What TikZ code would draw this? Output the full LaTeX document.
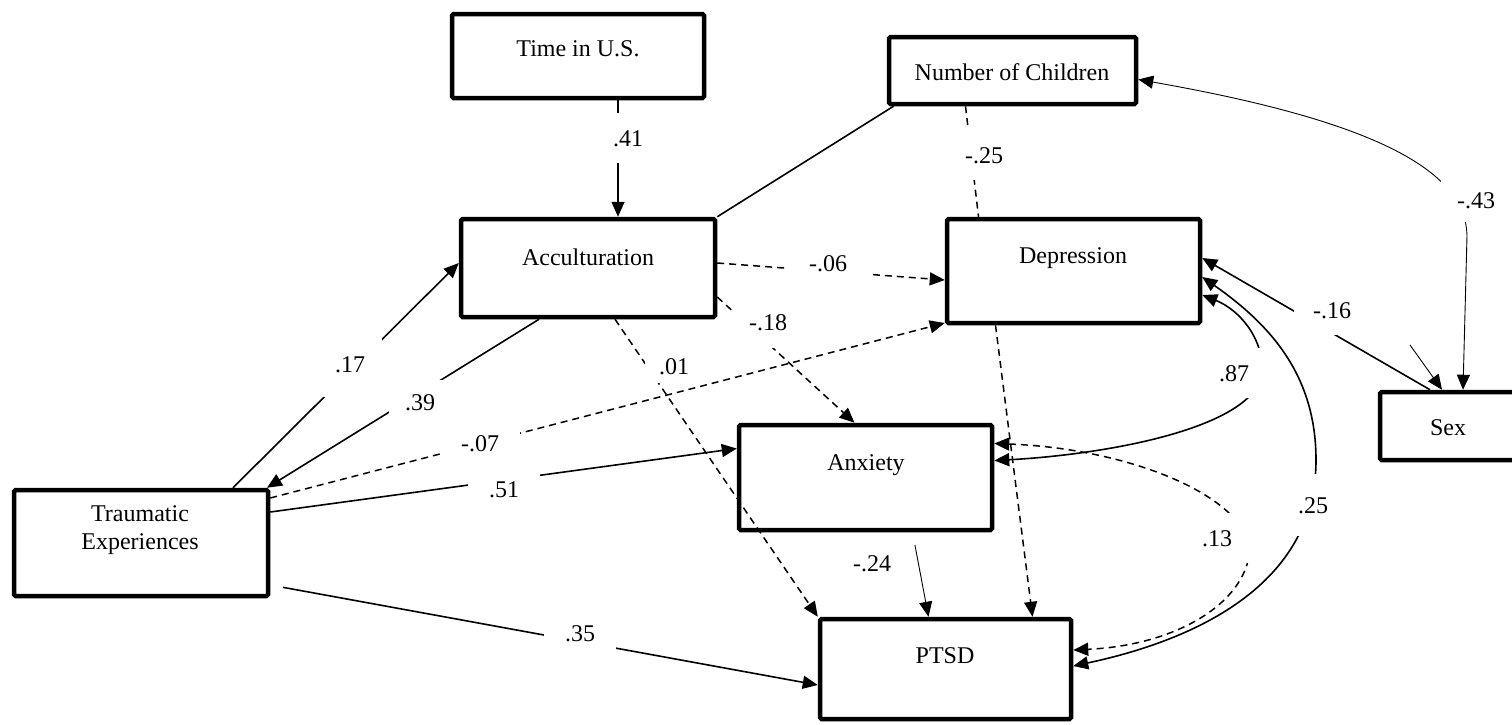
\documentclass[tikz,border=0pt]{standalone}
\usepackage{fontspec}
\setmainfont{Liberation Serif}
\usetikzlibrary{arrows.meta}
\begin{document}
\begin{tikzpicture}[x=1pt,y=-1pt,
  >={Triangle[length=15pt,width=13pt]},
  box/.style={draw, line width=4.5pt, rounded corners=1.5pt, inner sep=0pt},
  txt/.style={font=\fontsize{24}{28}\selectfont, align=center, inner sep=0pt, text height=16.5pt, text depth=0pt},
  lbl/.style={fill=white, font=\fontsize{24}{28}\selectfont, inner sep=0pt, text height=16.5pt, text depth=0pt},
  conn/.style={line width=1.6pt},
  thinl/.style={line width=0.9pt},
  dsh/.style={line width=1.5pt, dash pattern=on 7pt off 5pt}
]
\useasboundingbox (0,0) rectangle (1512,724);
\clip (0,0) rectangle (1512,724);
\fill[white] (0,0) rectangle (1512,724);

% boxes
\node[box, minimum width=252pt, minimum height=84pt]  (time)   at (578,56)     {};
\node[box, minimum width=247pt, minimum height=67pt]  (nc)     at (1012.5,70.5) {};
\node[box, minimum width=254pt, minimum height=98pt]  (acc)    at (588,268)    {};
\node[box, minimum width=253pt, minimum height=104pt] (dep)    at (1073.5,271) {};
\node[box, minimum width=253pt, minimum height=105pt] (anx)    at (865.5,477.5) {};
\node[box, minimum width=254pt, minimum height=106pt] (trauma) at (141,543)    {};
\node[box, minimum width=251pt, minimum height=100pt] (ptsd)   at (945.5,669)  {};
\node[box, minimum width=158pt, minimum height=68pt]  (sex)    at (1459,426)   {};

% texts
\node[txt] (timet) at (578,48) {Time in U.S.};
\node[txt] (nct) at (1012,72) {Number of Children};
\node[txt] (acct) at (588,257) {Acculturation};
\node[txt] (dept) at (1073,255) {Depression};
\node[txt] (anxt) at (866,462) {Anxiety};
\node[txt] (traumat) at (140,541) {Traumatic\\Experiences};
\node[txt] (ptsdt) at (945,655) {PTSD};
\node[txt] (sext) at (1448,427) {Sex};

% connectors
\draw[conn,->] ([xshift=40pt]time.south) -- ([xshift=30pt]acc.north);
\draw[conn] (acc.north east) -- ([xshift=-119pt]nc.south);
\draw[dsh] ([xshift=-47pt]nc.south) -- ([xshift=-95pt]dep.north);
\draw[thinl,<->] ([xshift=4pt]sex.north) -- (1467,235) .. controls (1465,172) and (1380,122) .. ([yshift=-9pt]nc.east);
\draw[conn,<-] ([yshift=13pt]dep.east) -- ([xshift=-29pt]sex.north);
\coordinate (sexa) at (1410,345);
\draw[thinl,->] (sexa) -- ([xshift=-17pt]sex.north);
\draw[conn,<->] ([yshift=17pt]anx.east) .. controls (1100,455) and (1250,430) .. (1262,375) .. controls (1265,340) and (1240,310) .. ([yshift=-24pt]dep.east);
\draw[conn,<->] ([yshift=-6pt]dep.east) to[out=-35,in=90] (1316,460) to[out=-90,in=12] ([yshift=3pt]ptsd.east);
\draw[dsh,<->] ([yshift=34pt]anx.east) .. controls (1120,448) and (1235,490) .. (1250,545) .. controls (1250,600) and (1180,645) .. ([yshift=19pt]ptsd.east);
\draw[dsh,->] ([xshift=-78pt]dep.south) -- ([xshift=87pt]ptsd.north);
\draw[dsh,->] ([yshift=5pt]acc.east) -- ([yshift=-9pt]dep.west);
\draw[dsh,->] ([yshift=-29pt]acc.east) -- ([xshift=-11pt]anx.north);
\draw[dsh,->] ([xshift=27pt]acc.south) -- (ptsd.north west);
\draw[conn,->] ([xshift=92pt]trauma.north) -- ([yshift=5pt]acc.west);
\draw[conn,->] ([xshift=-49pt]acc.south) -- ([xshift=126pt]trauma.north);
\draw[dsh,->] ([yshift=45pt]trauma.east) -- ([yshift=-52pt]dep.west);
\draw[conn,->] ([yshift=31pt]trauma.east) -- ([yshift=29pt]anx.west);
\draw[conn,->,shorten <=13pt] ([yshift=-42pt]trauma.east) -- ([yshift=-16pt]ptsd.west);
\draw[thinl,->,shorten <=13pt] ([xshift=47pt]anx.south) -- ([xshift=-17pt]ptsd.north);

% labels
\node[lbl, minimum width=50pt, minimum height=50pt] (l41) at (628,138) {.41};
\node[lbl, minimum width=50pt, minimum height=50pt] (l25a) at (984,155) {-.25};
\node[lbl, minimum width=70pt, minimum height=44pt] (l43) at (1476,200) {-.43};
\node[lbl, minimum width=76pt, minimum height=50pt] (l16) at (1332,310) {-.16};
\node[lbl, minimum width=66pt, minimum height=50pt] (l87) at (1234,373) {.87};
\node[lbl, minimum width=50pt, minimum height=62pt] (l25b) at (1313,505) {.25};
\node[lbl, minimum width=80pt, minimum height=50pt] (l13) at (1217,538) {.13};
\node[lbl, minimum width=60pt, minimum height=40pt] (l24) at (872,563) {-.24};
\node[lbl, minimum width=72pt, minimum height=40pt] (l35) at (580,633) {.35};
\node[lbl, minimum width=64pt, minimum height=66pt] (l17) at (350,364) {.17};
\node[lbl, minimum width=62pt, minimum height=44pt] (l39) at (420,402) {.39};
\node[lbl, minimum width=80pt, minimum height=34pt] (l07) at (480,443) {-.07};
\node[lbl, minimum width=72pt, minimum height=34pt] (l51) at (504,489) {.51};
\node[lbl, minimum width=84pt, minimum height=32pt] (l06) at (828,263) {-.06};
\node[lbl, minimum width=70pt, minimum height=52pt] (l18) at (768,322) {-.18};
\node[lbl, minimum width=58pt, minimum height=34pt] (l01) at (674,366) {.01};
\end{tikzpicture}
\end{document}
